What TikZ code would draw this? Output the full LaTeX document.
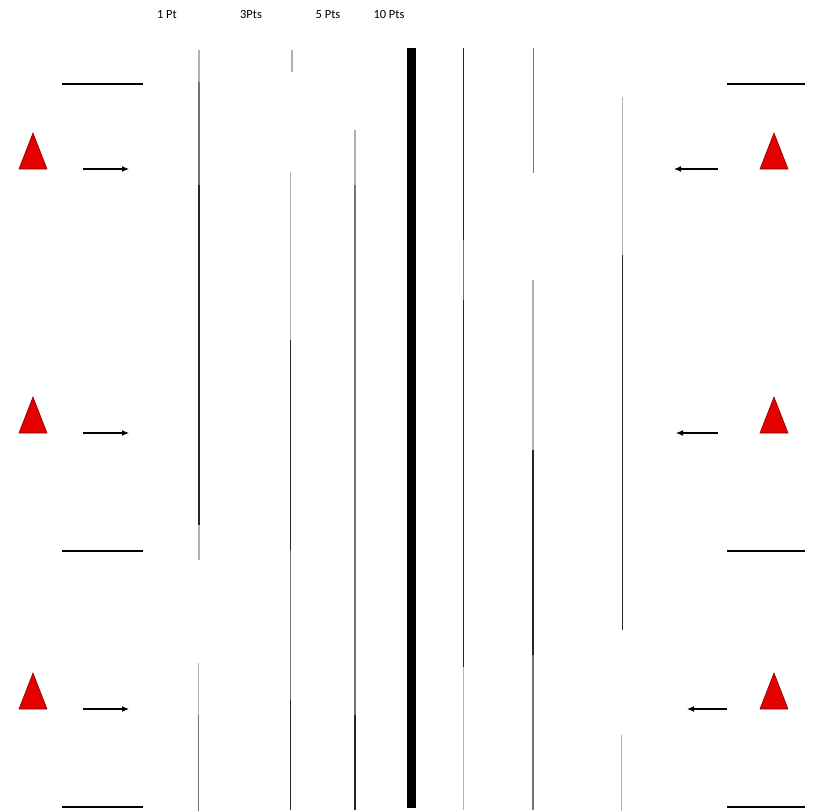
\documentclass[tikz,border=0pt]{standalone}
\usepackage{fontspec}
\setmainfont{Carlito}
\usetikzlibrary{arrows.meta}
\begin{document}
\begin{tikzpicture}[x=1bp,y=-1bp,
  lbl/.style={inner sep=0pt,font=\fontsize{12.5}{12.5}\selectfont},
  rule/.style={line width=1.1bp},
  bar/.style={line width=1.6bp,black},
  cone/.style={fill=red!90!black!100,draw=red!50!black,line width=0.6bp},
  flow/.style={line width=1.1bp,-{Latex[length=7bp,width=6bp]}},
  lt/.style={rule,black!30},
  md/.style={rule,black!55},
  dk/.style={rule,black!85}]
\useasboundingbox (0,0) rectangle (813,811);
% labels
\node[lbl] (l1) at (167,15) {1 Pt};
\node[lbl] (l3) at (251,15) {3Pts};
\node[lbl] (l5) at (328,15) {5 Pts};
\node[lbl] (l10) at (389,15) {10 Pts};
% vertical lines
% line 1 (x=199)
\draw[lt] (199,50) -- (199,82);
\draw[md] (199,82) -- (199,185);
\draw[dk] (199,185) -- (199,525);
\draw[lt] (199,525) -- (199,560);
\draw[lt] (198.5,663) -- (198.5,715);
\draw[md] (198.5,715) -- (198.5,811);
% line 2 (x=291)
\draw[lt] (292,50) -- (292,72);
\draw[lt] (290.5,172) -- (290.5,340);
\draw[dk] (290.5,340) -- (290.5,550);
\draw[md] (290.5,550) -- (290.5,700);
\draw[dk] (290.5,700) -- (290.5,810);
% line 3 (x=355)
\draw[lt] (355,130) -- (355,185);
\draw[md] (355,185) -- (355,715);
\draw[dk] (355,715) -- (355,810);
% line 4 thick
\draw[line width=9bp] (411,48) -- (411,808);
% line 5 (x=464)
\draw[dk] (463.5,48) -- (463.5,240);
\draw[md] (463.5,240) -- (463.5,300);
\draw[dk] (463.5,300) -- (463.5,667);
\draw[lt] (463.5,667) -- (463.5,810);
% line 6 (x=534)
\draw[md] (533.5,48) -- (533.5,173);
\draw[lt] (533,280) -- (533,450);
\draw[dk] (533,450) -- (533,655);
\draw[md] (533,655) -- (533,810);
% line 7 (x=622)
\draw[lt] (622.5,97) -- (622.5,255);
\draw[dk] (622.5,255) -- (622.5,630);
\draw[lt] (621.5,735) -- (621.5,811);
% horizontal bars
\draw[bar] (62,84) -- (143,84);
\draw[bar] (62,551) -- (143,551);
\draw[bar] (62,807) -- (143,807);
\draw[bar] (727,84) -- (805,84);
\draw[bar] (727,551) -- (805,551);
\draw[bar] (727,807) -- (805,807);
% cones
\foreach \y in {169,433,709}{
  \draw[cone] (19,\y) -- (33,\y-36) -- (47,\y) -- cycle;
  \draw[cone] (760,\y) -- (774,\y-36) -- (788,\y) -- cycle;
}
% arrows
\coordinate (a1s) at (83,169); \coordinate (a1e) at (129,169);
\coordinate (a2s) at (83,433); \coordinate (a2e) at (129,433);
\coordinate (a3s) at (83,709); \coordinate (a3e) at (129,709);
\coordinate (b1s) at (718,169); \coordinate (b1e) at (674,169);
\coordinate (b2s) at (718,433); \coordinate (b2e) at (676,433);
\coordinate (b3s) at (727,709); \coordinate (b3e) at (687,709);
\draw[flow] (a1s) -- (a1e);
\draw[flow] (a2s) -- (a2e);
\draw[flow] (a3s) -- (a3e);
\draw[flow] (b1s) -- (b1e);
\draw[flow] (b2s) -- (b2e);
\draw[flow] (b3s) -- (b3e);
\end{tikzpicture}
\end{document}
